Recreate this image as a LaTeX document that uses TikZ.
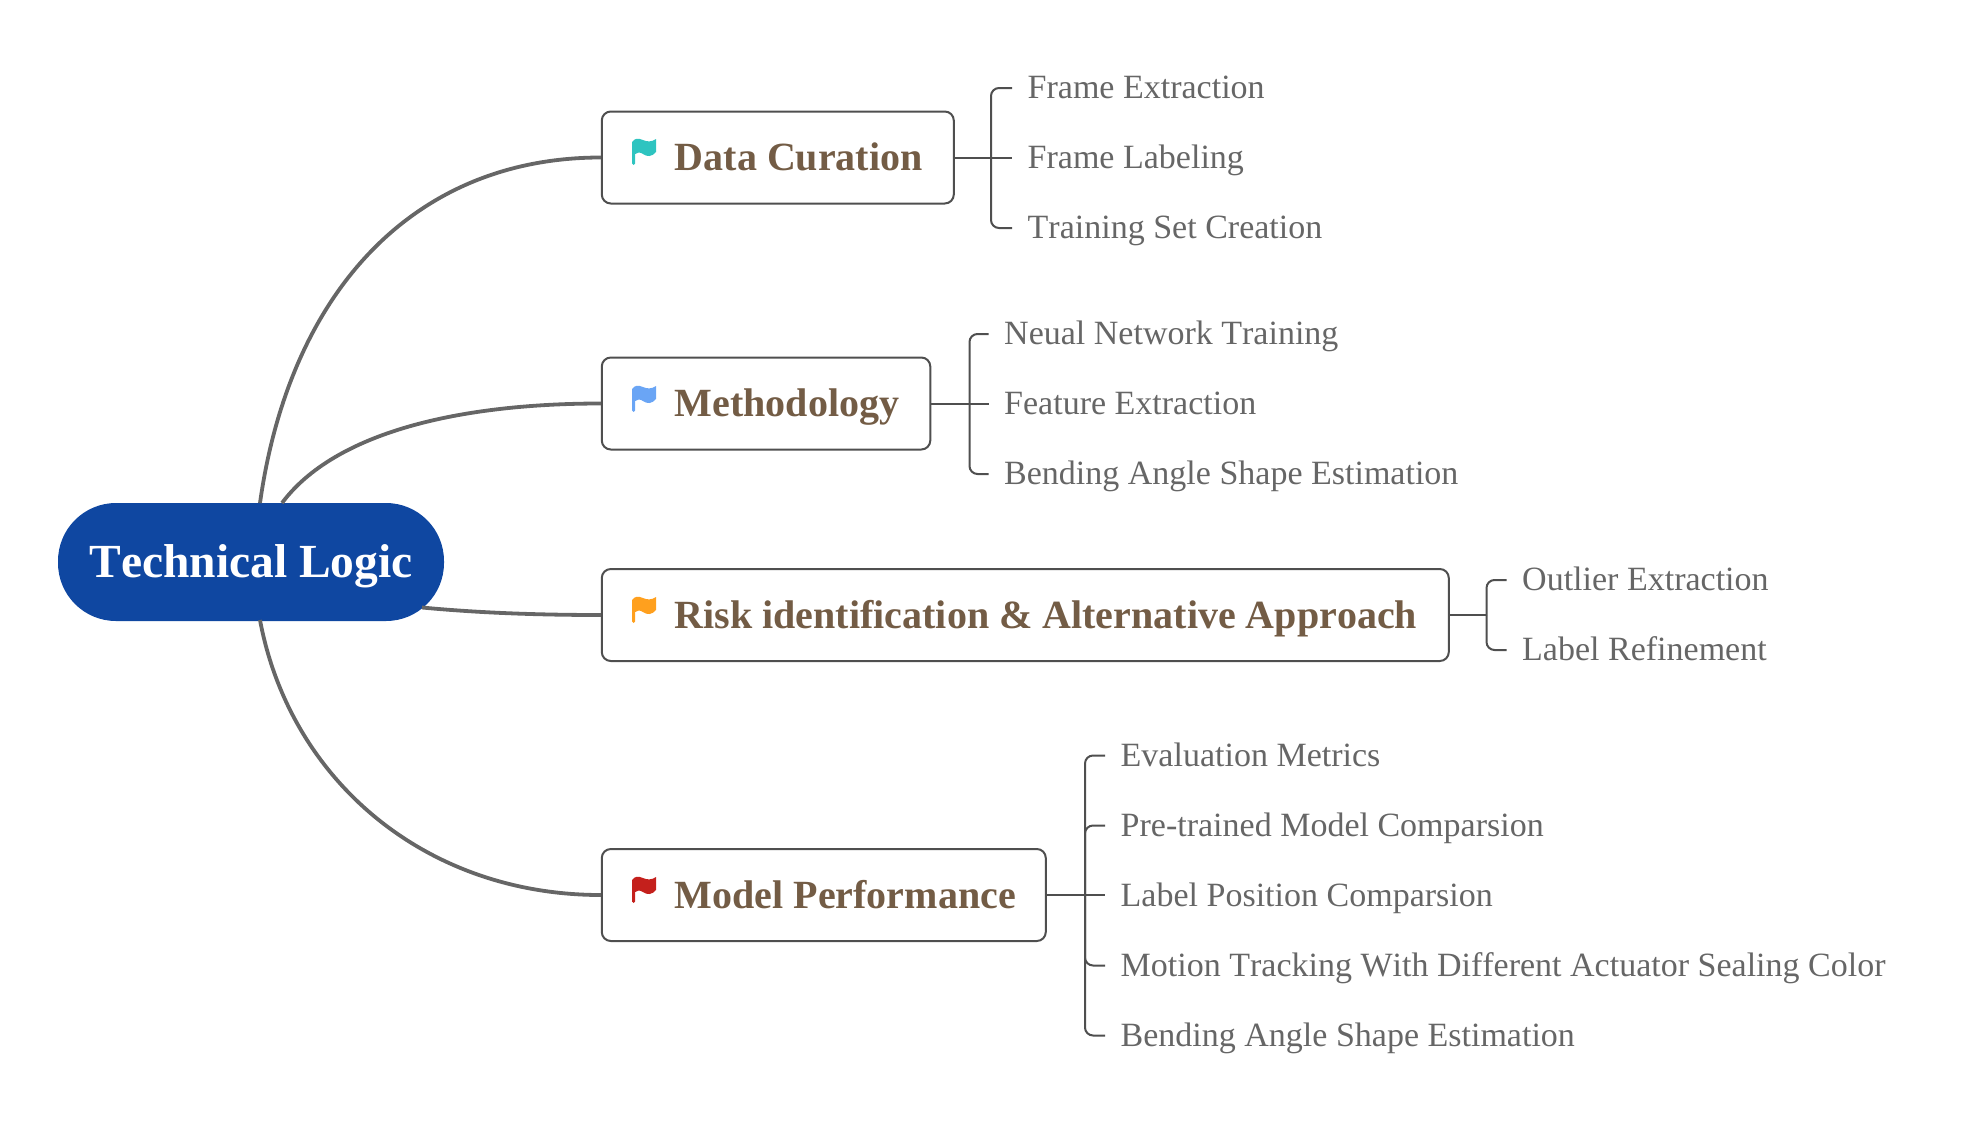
\documentclass[tikz,border=0pt]{standalone}
\usepackage{fontspec}
\setmainfont[Kerning=Off]{Liberation Serif}
\definecolor{rootblue}{HTML}{0F47A1}
\definecolor{topicbrown}{HTML}{735C45}
\definecolor{leafgrey}{HTML}{666666}
\definecolor{linegrey}{HTML}{4F4F4F}
\definecolor{trunkgrey}{HTML}{666666}
\definecolor{flagteal}{HTML}{2EC4C0}
\definecolor{flagblue}{HTML}{6AA5F5}
\definecolor{flagorange}{HTML}{FFA01E}
\definecolor{flagred}{HTML}{C4201C}
\newcommand{\topicflag}[3]{%
  \fill[#3,shift={(#1,#2)}] (0,4) .. controls (3,0) and (6,0) .. (11,2)
    .. controls (15,4) and (20,4) .. (24,1) -- (24,14)
    .. controls (20,19) and (15,19) .. (11,16)
    .. controls (8,14) and (5,14) .. (3.2,16) -- (3.2,25.5)
    .. controls (3,27.5) and (0,27.5) .. (0,25.5) -- cycle;}
\newcommand{\topictext}[2]{\makebox[#1pt][l]{\hspace{73pt}#2}}
\tikzset{
  rootnode/.style={fill=rootblue,text=white,rounded corners=58pt,minimum width=386pt,minimum height=118pt,inner sep=0pt,font=\fontsize{47.5}{48}\selectfont\bfseries,text height=30pt,text depth=0pt},
  topicbox/.style={draw=linegrey,line width=2pt,rounded corners=9pt,anchor=west,minimum height=92pt,inner sep=0pt,text=topicbrown,font=\fontsize{40}{40}\selectfont\bfseries,text height=25pt,text depth=0pt},
  lowbase/.style={text height=27.4pt},
  leafnode/.style={anchor=west,inner xsep=15.5pt,inner ysep=0pt,text=leafgrey,font=\fontsize{34}{34}\selectfont,text height=22pt,text depth=0pt},
  highbase/.style={text height=20pt},
  trunk/.style={draw=trunkgrey,line width=3.8pt},
  twig/.style={draw=linegrey,line width=2pt,rounded corners=8pt},
  stem/.style={draw=linegrey,line width=2pt},
}
\begin{document}
\begin{tikzpicture}[x=1pt,y=-1pt]
\useasboundingbox (0,0) rectangle (1972,1122);
\node[rootnode] (root) at (251,562) {Technical Logic};
\node[topicbox] (dc) at (600.8,157.5) {\topictext{352}{Data Curation}};
\node[topicbox] (me) at (600.8,403.5) {\topictext{328.5}{Methodology}};
\node[topicbox,lowbase] (ri) at (600.8,615) {\topictext{847}{Risk identification \& Alternative Approach}};
\node[topicbox,lowbase] (mp) at (600.8,895) {\topictext{444}{Model Performance}};
% flags
\topicflag{632}{138}{flagteal}
\topicflag{632}{385}{flagblue}
\topicflag{632}{596}{flagorange}
\topicflag{632}{876}{flagred}
% trunk anchors on the root border
\coordinate (rA) at (260,503);
\coordinate (rB) at (282,503);
\coordinate (rC) at (422,607.5);
\coordinate (rD) at (260,620);
\draw[trunk] (rA) .. controls (290,290) and (415,157.5) .. (dc.west);
\draw[trunk] (rB) .. controls (335,432) and (460,403.5) .. (me.west);
\draw[trunk] (rC) .. controls (480,613) and (540,615) .. (ri.west);
\draw[trunk] (rD) .. controls (290,780) and (425,895) .. (mp.west);
% leaves
\node[leafnode,highbase] (dc1) at (1012,88) {Frame Extraction};
\node[leafnode] (dc2) at (1012,157.5) {Frame Labeling};
\node[leafnode,highbase] (dc3) at (1012,228) {Training Set Creation};
\node[leafnode,highbase] (me1) at (988.5,334) {Neual Network Training};
\node[leafnode] (me2) at (988.5,403.5) {Feature Extraction};
\node[leafnode,highbase] (me3) at (988.5,474) {Bending Angle Shape Estimation};
\node[leafnode,highbase] (ri1) at (1506.5,580) {Outlier Extraction};
\node[leafnode,highbase] (ri2) at (1506.5,650) {Label Refinement};
\node[leafnode] (mp1) at (1105,755.5) {Evaluation Metrics};
\node[leafnode] (mp2) at (1105,825.5) {Pre-trained Model Comparsion};
\node[leafnode] (mp3) at (1105,895) {Label Position Comparsion};
\node[leafnode] (mp4) at (1105,965.5) {Motion Tracking With Different Actuator Sealing Color};
\node[leafnode] (mp5) at (1105,1035.5) {Bending Angle Shape Estimation};
% spines
\coordinate (sdc) at (991,157.5);
\coordinate (sme) at (969.5,403.5);
\coordinate (sri) at (1486.5,615);
\coordinate (smp) at (1085,895);
% connectors
\draw[stem] (dc.east) -- (dc2.west);
\draw[twig] (sdc) |- (dc1.west);
\draw[twig] (sdc) |- (dc3.west);
\draw[stem] (me.east) -- (me2.west);
\draw[twig] (sme) |- (me1.west);
\draw[twig] (sme) |- (me3.west);
\draw[stem] (ri.east) -- (sri);
\draw[twig] (sri) |- (ri1.west);
\draw[twig] (sri) |- (ri2.west);
\draw[stem] (mp.east) -- (mp3.west);
\draw[twig] (smp) |- (mp1.west);
\draw[twig] (smp) |- (mp2.west);
\draw[twig] (smp) |- (mp4.west);
\draw[twig] (smp) |- (mp5.west);
\end{tikzpicture}
\end{document}
